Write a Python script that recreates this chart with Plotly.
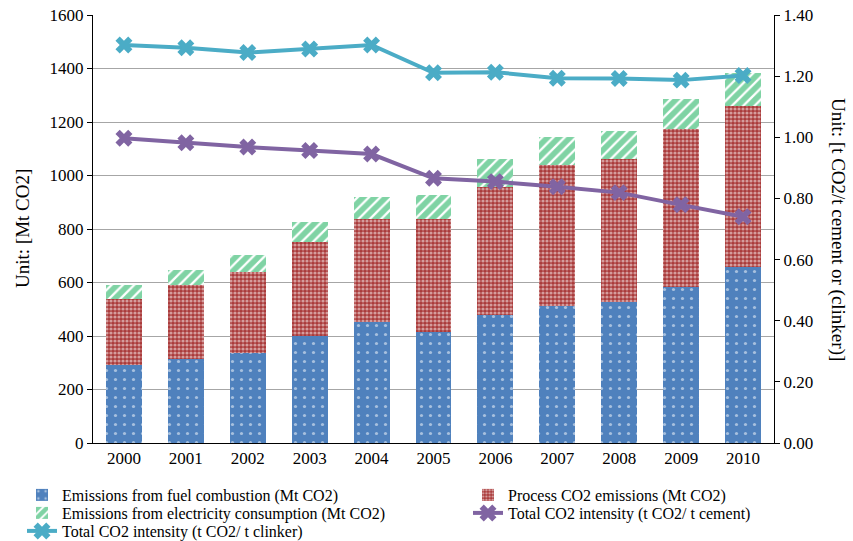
import plotly.graph_objects as go

years = ["2000", "2001", "2002", "2003", "2004", "2005", "2006", "2007", "2008", "2009", "2010"]
fuel = [290, 315, 335, 400, 451, 416, 480, 513, 528, 584, 657]
process = [247, 277, 303, 352, 386, 421, 478, 526, 534, 589, 603]
electricity = [54, 56, 64, 75, 81, 90, 102, 106, 104, 114, 122]
int_cement = [0.997, 0.982, 0.968, 0.957, 0.945, 0.866, 0.855, 0.838, 0.819, 0.779, 0.740]
int_clinker = [1.302, 1.293, 1.277, 1.289, 1.302, 1.211, 1.213, 1.193, 1.192, 1.187, 1.202]

FONT = "Liberation Serif"

fig = go.Figure()
fig.add_trace(go.Bar(
    x=years, y=fuel, name="Emissions from fuel combustion (Mt CO2)", legend="legend",
    marker=dict(color="#4f81bd", line=dict(width=0),
                pattern=dict(shape=".", fgcolor="white", bgcolor="#4f81bd", size=9, solidity=0.1))))
fig.add_trace(go.Bar(
    x=years, y=process, name="Process CO2 emissions (Mt CO2)", legend="legend2",
    marker=dict(color="#b03c3c", line=dict(width=0),
                pattern=dict(shape=".", fgcolor="#ffffff", bgcolor="#aa3a3a", size=4, solidity=0.5))))
fig.add_trace(go.Bar(
    x=years, y=electricity, name="Emissions from electricity consumption (Mt CO2)", legend="legend3",
    marker=dict(color="#00b050", line=dict(width=0),
                pattern=dict(shape="/", fgcolor="#00a84a", bgcolor="white", size=8, solidity=0.72))))
fig.add_trace(go.Scatter(
    x=years, y=int_cement, name="Total CO2 intensity (t CO2/ t cement)", yaxis="y2", legend="legend4",
    mode="lines+markers", line=dict(color="#8064a2", width=4),
    marker=dict(symbol="x", size=15, color="#8064a2")))
fig.add_trace(go.Scatter(
    x=years, y=int_clinker, name="Total CO2 intensity (t CO2/ t clinker)", yaxis="y2", legend="legend5",
    mode="lines+markers", line=dict(color="#4bacc6", width=4),
    marker=dict(symbol="x", size=15, color="#4bacc6")))


def leg(xpx, ypx):
    return dict(x=xpx / 853, y=1 - ypx / 541, orientation="v", xref="container", yref="container",
                yanchor="top", xanchor="left", font=dict(family=FONT, size=16),
                itemwidth=30, tracegroupgap=0, bgcolor="rgba(0,0,0,0)", borderwidth=0)


fig.update_layout(
    width=853, height=541,
    margin=dict(l=93, r=79, t=15, b=98, autoexpand=False),
    paper_bgcolor="white", plot_bgcolor="white",
    font=dict(family=FONT, size=17, color="black"),
    barmode="stack", bargap=0.42,
    showlegend=True,
    legend=leg(22, 478),
    legend2=leg(468, 478),
    legend3=leg(22, 496),
    legend4=leg(468, 496),
    legend5=leg(22, 514),
    xaxis=dict(range=[-0.5, 10.5], showline=True, linecolor="black", linewidth=1, ticks="",
               showgrid=False, tickfont=dict(size=17), automargin=False),
    yaxis=dict(range=[0, 1600], dtick=200, showline=True, linecolor="black", linewidth=1,
               ticks="outside", ticklen=5, tickcolor="black",
               showgrid=True, gridcolor="#a6a6a6", gridwidth=1, zeroline=False, automargin=False,
               tickfont=dict(size=17)),
    yaxis2=dict(range=[0, 1.4], dtick=0.2, tickformat=".2f", overlaying="y", side="right",
                showline=True, linecolor="black", linewidth=1, ticks="outside", ticklen=5,
                tickcolor="black", showgrid=False, zeroline=False, tickfont=dict(size=17),
                automargin=False),
    annotations=[
        dict(text="Unit: [Mt CO2]", textangle=-90, xref="paper", yref="paper",
             x=0.0, xshift=-71, y=0.5, xanchor="center", yanchor="middle",
             showarrow=False, font=dict(family=FONT, size=19)),
        dict(text="Unit: [t CO2/t cement or (clinker)]", textangle=90,
             xref="paper", yref="paper", x=1.0, xshift=64, y=0.5, xanchor="center", yanchor="middle",
             showarrow=False, font=dict(family=FONT, size=19)),
    ],
)

fig.write_html("out.html")
